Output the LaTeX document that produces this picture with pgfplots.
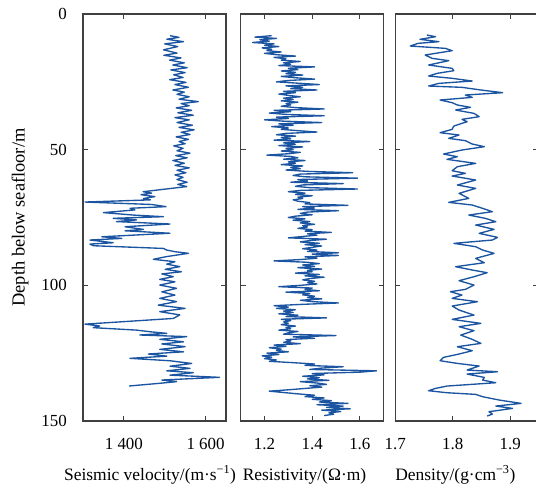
\documentclass[border=0pt]{standalone}
\usepackage{pgfplots}
\pgfplotsset{compat=1.18}
\usepackage{fontspec}
\setmainfont{Liberation Serif}

\definecolor{logblue}{RGB}{27,84,160}
\definecolor{framegray}{RGB}{64,64,64}

\pgfplotsset{
  logpanel/.style={
    scale only axis, width=143bp, height=407bp,
    y dir=reverse, ymin=0, ymax=150,
    ytick={0,50,100,150},
    tick align=inside,
    major tick length=5bp,
    axis line style={framegray, line width=1.1bp},
    tick style={framegray, line width=1bp},
    tick label style={font=\fontsize{17}{20}\selectfont},
    label style={font=\fontsize{17.5}{21}\selectfont},
    /pgf/number format/assume math mode=true,
    xticklabel style={inner sep=0pt, anchor=north, yshift=-17bp},
    yticklabel style={inner sep=0pt, anchor=east, xshift=-16bp},
  },
  logline/.style={logblue, line width=1.35bp, line join=round, mark=none},
}

\begin{document}
\begin{tikzpicture}

% ---------------- seismic velocity ----------------
\begin{axis}[logpanel,
  at={(83bp,64bp)}, anchor=south west,
  xmin=1300, xmax=1650,
  xtick={1400,1600}, xticklabels={1 400, 1 600},
  xlabel={Seismic velocity/(m·s\textsuperscript{−1})},
  xlabel style={anchor=base, at={(axis description cs:0.469,-0.145)}},
  ylabel={Depth below seafloor/m},
  ylabel style={anchor=center, font=\fontsize{18.5}{21}\selectfont, at={(axis description cs:-0.44,0.5)}},
]
\addplot[logline] coordinates {
(1513,8.0) (1535,8.6) (1505,9.3) (1546,10.2) (1500,11.0) (1532,12.0) (1497,13.2) (1530,14.4)
(1498,15.2) (1540,16.2) (1512,17.0) (1548,18.0) (1520,18.8) (1555,19.8) (1515,20.6) (1550,21.6)
(1522,22.4) (1545,23.4) (1512,24.2) (1552,25.2) (1525,26.0) (1558,27.0) (1520,28.0) (1548,28.8)
(1530,29.6) (1560,30.5) (1535,31.4) (1582,32.3) (1540,33.0) (1560,33.8) (1528,34.6) (1566,35.5)
(1532,36.4) (1570,37.3) (1525,38.2) (1560,39.0) (1530,40.0) (1568,41.0) (1535,41.8) (1572,42.7)
(1540,43.6) (1562,44.4) (1528,45.3) (1558,46.2) (1535,47.0) (1550,47.8) (1522,48.6) (1545,49.5)
(1530,50.4) (1562,51.3) (1527,52.2) (1555,53.0) (1520,54.0) (1548,55.0) (1525,55.8) (1560,56.7)
(1530,57.6) (1552,58.5) (1525,59.3) (1545,60.2) (1530,61.0) (1555,62.0) (1532,62.8) (1554,63.6)
(1447,65.5) (1468,66.0) (1442,66.6) (1476,67.3) (1448,68.0) (1465,68.5) (1305,69.3) (1468,70.2)
(1503,71.0) (1415,71.6) (1427,72.2) (1350,73.2) (1423,74.1) (1497,74.7) (1374,75.3) (1431,75.9)
(1382,76.5) (1513,77.4) (1403,78.4) (1448,79.4) (1403,79.9) (1513,80.8) (1346,82.1) (1395,82.7)
(1317,83.3) (1374,84.3) (1317,84.8) (1325,85.4) (1497,86.4) (1505,87.0) (1525,87.6) (1558,88.2)
(1505,89.4) (1472,90.4) (1525,91.3) (1505,92.2) (1537,93.1) (1501,94.1) (1541,95.0) (1493,95.8)
(1521,96.8) (1488,97.8) (1525,98.7) (1488,99.9) (1529,101.1) (1493,102.4) (1525,103.6) (1488,104.8)
(1529,106.0) (1484,107.3) (1550,108.5) (1488,109.7) (1537,110.9) (1521,112.2) (1305,114.3) (1341,115.0)
(1325,115.6) (1431,116.5) (1464,117.1) (1505,117.7) (1439,118.3) (1554,118.9) (1488,119.9) (1546,120.8)
(1493,121.6) (1550,122.6) (1488,123.6) (1546,124.5) (1460,125.3) (1505,126.1) (1415,126.9) (1513,127.8)
(1566,128.8) (1513,129.8) (1562,130.6) (1505,131.5) (1570,132.2) (1513,133.1) (1634,133.9) (1493,134.9)
(1529,135.5) (1488,136.1) (1413,137.1)
};
\end{axis}

% ---------------- resistivity ----------------
\begin{axis}[logpanel,
  at={(240.7bp,64bp)}, anchor=south west,
  xmin=1.1, xmax=1.7,
  xtick={1.2,1.4,1.6}, xticklabels={1.2,1.4,1.6},
  yticklabels={},
  xlabel={Resistivity/(Ω·m)},
  xlabel style={anchor=base, at={(axis description cs:0.446,-0.145)}},
]
\addplot[logline] coordinates {
(1.23,8.0) (1.16,8.5) (1.25,9.0) (1.18,9.5) (1.22,10.0) (1.15,10.5) (1.24,11.0) (1.20,11.5) (1.26,12.0) (1.19,12.5) (1.23,13.0) (1.21,13.5) (1.27,14.0) (1.20,14.5)
(1.25,15.0) (1.33,15.5) (1.24,16.0) (1.29,16.5) (1.27,17.0) (1.35,17.5) (1.28,18.0) (1.31,18.5) (1.26,19.0) (1.41,19.5) (1.30,20.0) (1.34,20.5) (1.27,21.0) (1.33,21.5)
(1.29,22.0) (1.36,22.5) (1.27,23.0) (1.33,23.5) (1.41,24.0) (1.30,24.5) (1.25,25.0) (1.34,25.5) (1.43,26.0) (1.29,26.5) (1.36,27.0) (1.31,27.5)
(1.42,28.0) (1.28,28.5) (1.33,29.0) (1.26,29.5) (1.30,30.0) (1.35,30.5) (1.28,31.0) (1.32,31.5) (1.27,32.0) (1.34,32.5) (1.29,33.0) (1.31,33.5)
(1.27,34.0) (1.33,34.5) (1.45,35.0) (1.24,35.5) (1.31,36.0) (1.22,36.5) (1.29,37.0) (1.45,37.5) (1.25,38.0) (1.30,38.5)
(1.20,39.0) (1.28,39.5) (1.44,40.0) (1.26,40.5) (1.32,41.0) (1.23,41.5) (1.30,42.0) (1.27,42.5) (1.34,43.0) (1.42,43.5)
(1.29,44.0) (1.25,44.5) (1.33,45.0) (1.27,45.5) (1.31,46.0) (1.24,46.5) (1.39,47.0) (1.28,47.5) (1.33,48.0)
(1.26,48.5) (1.36,49.0) (1.29,49.5) (1.32,50.0) (1.27,50.5) (1.35,51.0) (1.30,51.5) (1.21,52.0) (1.31,52.5)
(1.34,53.0) (1.28,53.5) (1.37,54.0) (1.30,54.5) (1.33,55.0) (1.27,55.5) (1.36,56.0) (1.31,56.5) (1.35,57.0) (1.29,57.5) (1.38,58.0) (1.57,58.5)
(1.35,59.0) (1.32,59.5) (1.37,60.0) (1.59,60.5) (1.34,61.0) (1.38,61.5) (1.31,62.0) (1.53,62.5) (1.36,63.0) (1.33,63.5)
(1.39,64.0) (1.59,64.5) (1.35,65.0) (1.30,65.5) (1.37,66.0) (1.33,66.5) (1.40,67.0) (1.34,67.5) (1.36,68.0) (1.32,68.5)
(1.34,69.0) (1.39,69.5) (1.37,70.0) (1.55,70.5) (1.36,71.0) (1.41,71.5) (1.34,72.0) (1.51,72.5) (1.38,73.0) (1.35,73.5) (1.40,74.0) (1.33,74.5)
(1.30,75.0) (1.37,75.5) (1.32,76.0) (1.39,76.5) (1.35,77.0) (1.41,77.5) (1.36,78.0) (1.38,78.5) (1.34,79.0) (1.40,79.5) (1.37,80.0) (1.48,80.5)
(1.38,81.0) (1.42,81.5) (1.36,82.0) (1.30,82.5) (1.46,83.0) (1.39,83.5) (1.35,84.0) (1.43,84.5) (1.37,85.0) (1.44,85.5) (1.40,86.0) (1.36,86.5) (1.42,87.0) (1.38,87.5) (1.51,88.0)
(1.40,88.5) (1.51,89.0) (1.37,89.5) (1.42,90.0) (1.35,90.5) (1.24,91.0) (1.38,91.5) (1.43,92.0) (1.36,92.5) (1.41,93.0) (1.34,93.5)
(1.44,94.0) (1.38,94.5) (1.40,95.0) (1.33,95.5) (1.43,96.0) (1.37,96.5) (1.45,97.0) (1.39,97.5) (1.36,98.0) (1.41,98.5)
(1.38,99.0) (1.42,99.5) (1.35,100.0) (1.26,100.5) (1.40,101.0) (1.37,101.5) (1.43,102.0) (1.29,102.5) (1.39,103.0) (1.36,103.5) (1.41,104.0) (1.38,104.5) (1.44,105.0) (1.35,105.5) (1.40,106.0) (1.51,106.5)
(1.36,107.0) (1.24,107.5) (1.30,108.0) (1.25,108.5) (1.33,109.0) (1.28,109.5) (1.32,110.0) (1.26,110.5) (1.34,111.0) (1.29,111.5) (1.46,112.0) (1.27,112.5) (1.31,113.0) (1.28,113.5)
(1.30,114.0) (1.27,114.5) (1.33,115.0) (1.29,115.5) (1.31,116.0) (1.26,116.5) (1.34,117.0) (1.30,117.5) (1.28,118.0) (1.50,118.5) (1.32,119.0) (1.41,119.5) (1.29,120.0) (1.31,120.5)
(1.28,121.0) (1.35,121.5) (1.24,122.0) (1.29,122.5) (1.22,123.0) (1.27,123.5) (1.25,124.0) (1.30,124.5) (1.21,125.0) (1.26,125.5) (1.19,126.0) (1.23,126.5) (1.20,127.0) (1.25,127.5) (1.22,128.0)
(1.32,128.5) (1.41,129.0) (1.37,129.5) (1.53,130.0) (1.44,130.5) (1.39,131.0) (1.67,131.5) (1.60,132.0) (1.40,132.5) (1.45,133.0)
(1.36,133.5) (1.43,134.0) (1.38,134.5) (1.47,135.0) (1.35,135.5) (1.42,136.0) (1.46,136.5) (1.39,137.0) (1.44,137.5) (1.37,138.0)
(1.30,138.5) (1.22,139.0) (1.28,139.5) (1.34,140.0) (1.41,140.5) (1.37,141.0) (1.45,141.5) (1.40,142.0) (1.48,142.5) (1.43,143.0)
(1.55,143.5) (1.42,144.0) (1.53,144.5) (1.46,145.0) (1.56,145.5) (1.44,146.0) (1.52,146.5) (1.47,147.0) (1.49,147.5) (1.45,148.0)
};
\end{axis}

% ---------------- density ----------------
\begin{axis}[logpanel,
  at={(395.3bp,64bp)}, anchor=south west,
  xmin=1.7, xmax=1.949,
  xtick={1.7,1.8,1.9}, xticklabels={1.7,1.8,1.9},
  yticklabels={},
  xlabel={Density/(g·cm\textsuperscript{−3})},
  xlabel style={anchor=base, at={(axis description cs:0.42,-0.145)}},
]
\addplot[logline] coordinates {
(1.755,7.74) (1.770,8.36) (1.743,9.34) (1.776,10.2) (1.740,10.81) (1.726,11.80) (1.787,12.66) (1.799,13.52)
(1.752,15.11) (1.764,16.34) (1.793,17.20) (1.758,18.80) (1.799,20.03) (1.802,20.89) (1.773,21.87) (1.758,22.85)
(1.799,23.71) (1.834,24.70) (1.776,25.56) (1.758,26.54) (1.816,27.03) (1.849,28.01) (1.887,29.00) (1.822,29.86)
(1.834,30.72) (1.778,31.70) (1.799,32.68) (1.808,33.54) (1.831,34.40) (1.805,35.39) (1.837,36.62) (1.846,37.84)
(1.816,38.83) (1.825,39.69) (1.802,41.28) (1.799,42.51) (1.778,43.74) (1.811,44.60) (1.793,45.83) (1.822,46.69)
(1.834,47.92) (1.855,48.90) (1.816,50.13) (1.784,51.61) (1.808,52.59) (1.790,53.57) (1.840,55.05) (1.808,56.28)
(1.799,57.75) (1.822,58.73) (1.799,59.71) (1.840,61.19) (1.808,63.03) (1.840,64.26) (1.811,66.10) (1.828,67.95)
(1.793,69.42) (1.834,70.41) (1.852,71.63) (1.869,72.86) (1.828,74.09) (1.857,75.32) (1.875,76.55) (1.840,77.78)
(1.872,79.37) (1.846,80.85) (1.878,82.32) (1.869,83.30) (1.802,84.53) (1.840,85.76) (1.852,86.99) (1.872,88.22)
(1.840,90.06) (1.855,91.66) (1.805,93.13) (1.834,94.36) (1.860,95.35) (1.837,96.82) (1.811,98.29) (1.837,99.89)
(1.822,101.49) (1.796,102.35) (1.816,103.58) (1.799,104.81) (1.843,106.03) (1.799,107.63) (1.811,109.11) (1.837,110.95)
(1.799,112.55) (1.849,114.02) (1.811,115.25) (1.837,116.72) (1.814,118.32) (1.834,119.92) (1.849,121.39) (1.808,122.62)
(1.834,124.10) (1.811,125.32) (1.784,126.55) (1.778,127.78) (1.808,128.77) (1.846,129.75) (1.825,131.22) (1.878,131.84)
(1.825,132.70) (1.855,133.93) (1.852,134.91) (1.875,135.89) (1.790,137.12) (1.770,137.98) (1.758,138.84) (1.790,139.58)
(1.840,140.19) (1.852,141.05) (1.881,142.28) (1.919,143.51) (1.875,144.49) (1.904,145.35) (1.863,146.58) (1.869,147.44)
(1.860,148.18)
};
\end{axis}

\pgfresetboundingbox
\useasboundingbox (0,0) rectangle (536bp,485bp);
\end{tikzpicture}
\end{document}
